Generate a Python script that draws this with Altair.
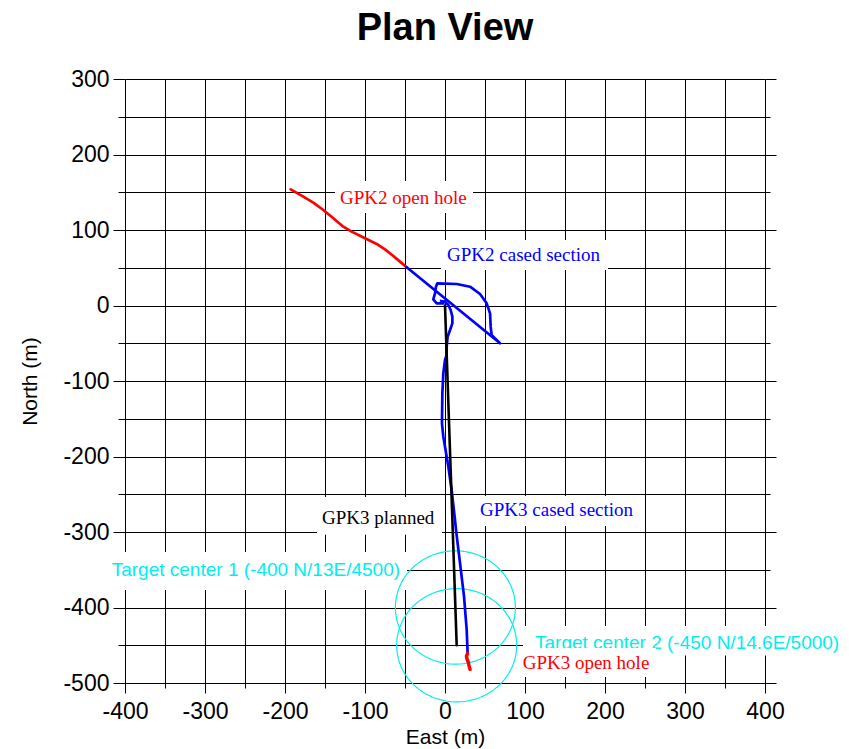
import altair as alt
import numpy as np
import pandas as pd

# Well trajectories in plan view: East (m), North (m)
gpk2_open_e = [-192.9, -177.1, -164.6, -152.1, -139.6, -127.1, -116.7, -100.0, -85.4, -75.0, -64.6, -56.3, -47.9]
gpk2_open_n = [153.9, 144.1, 136.2, 126.5, 115.5, 104.4, 97.8, 89.0, 81.5, 74.4, 65.6, 58.1, 50.6]

gpk2_cased_e = [-2.1, -10.4, -14.6, -12.5, -11.3, -9.6, 14.6, 31.3, 43.8, 52.1, 56.3, 57.1, 58.3, 62.5, 68.8, -47.9]
gpk2_cased_n = [2.9, 2.9, 8.2, 16.1, 24.9, 29.4, 28.5, 24.9, 15.2, 2.9, -10.4, -28.0, -39.1, -43.5, -50.1, 50.6]

gpk3_cased_e = [-5.0, 0.0, 4.2, 7.1, 9.2, 9.2, 6.3, 3.3, 2.1, 2.1, 0.0, -2.1, -3.3, -3.8, -2.1, 0.0,
                4.2, 8.3, 12.5, 13.8, 18.8, 23.8, 27.1, 28.3]
gpk3_cased_n = [6.0, 5.1, 0.7, -6.0, -14.8, -23.6, -32.5, -41.3, -54.5, -65.6, -72.2, -89.8, -116.3, -156.1,
                -173.7, -187.0, -213.5, -244.4, -284.1, -297.4, -341.5, -385.7, -429.8, -460.7]

gpk3_open_e = [28.3, 26.8, 27.6, 29.0, 30.0, 31.3]
gpk3_open_n = [-460.7, -464.5, -468.5, -472.0, -477.0, -482.0]

gpk3_plan_e = [0.0, 13.0, 14.6]
gpk3_plan_n = [0.0, -400.0, -450.0]

# Target circles (centre East/North, radius in m)
target_e = [13.0, 14.6]
target_n = [-400.0, -450.0]
target_radius = 75.0

# Annotation texts
label_texts = [
    "GPK2 open hole",
    "GPK2 cased section",
    "GPK3 planned",
    "GPK3 cased section",
    "Target center 1 (-400 N/13E/4500)",
    "Target center 2 (-450 N/14.6E/5000)",
    "GPK3 open hole",
]
label_colors = ["#FF0000", "#0000FF", "#000000", "#0000FF", "#00EEEE", "#00EEEE", "#FF0000"]
label_fonts = ["Liberation Serif"] * 4 + ["Liberation Sans"] * 2 + ["Liberation Serif"]
label_sizes = [19, 19, 19, 19, 19, 19, 19]
# anchor (left, middle) and white backing box, in data units
label_e = [-131.3, 2.5, -153.8, 43.8, -416.6, 112.5, 97.1]
label_n = [142.4, 66.9, -281.5, -270.9, -349.7, -447.4, -473.9]
box_e1 = [-137.5, -5.0, -160.0, 36.3, -425.0, 97.5, 90.0]
box_e2 = [35.0, 203.8, -3.8, 243.8, -47.5, 503.8, 263.8]
box_n1 = [164.9, 86.8, -253.6, -252.3, -326.5, -424.5, -453.6]
box_n2 = [122.5, 47.0, -303.6, -292.0, -376.8, -463.6, -492.0]

x_major = list(range(-400, 401, 100))
x_minor = list(range(-350, 351, 100))
y_major = list(range(-500, 301, 100))
y_minor = list(range(-450, 251, 100))

SANS = "Liberation Sans"
SX = alt.Scale(domain=[-400, 400], nice=False, zero=False)
SY = alt.Scale(domain=[-500, 300], nice=False, zero=False)


def make_axis(values, orient, tick, labels=False, title=None, grid=True, pad=4, tpad=4):
    return alt.Axis(
        values=values, orient=orient, tickSize=tick, grid=grid, labels=labels,
        domain=False, ticks=True, tickColor="black", tickWidth=1,
        gridColor="black", gridWidth=1, gridOpacity=1,
        labelFont=SANS, labelFontSize=23, labelColor="black", labelPadding=pad,
        labelFlush=False, labelOverlap=False, labelExpr="'' + datum.value",
        title=title, titleFont=SANS, titleFontSize=21, titleFontWeight="normal",
        titleColor="black", titlePadding=tpad,
        zindex=0,
    )


axis_sets = [
    (make_axis(x_major, "bottom", 10, labels=True, title="East (m)", pad=7, tpad=3),
     make_axis(y_major, "left", 12, labels=True, title="North (m)", pad=4, tpad=22)),
    (make_axis(x_minor, "bottom", 5), make_axis(y_minor, "left", 7)),
    (None, make_axis(y_major, "right", 11, grid=False)),
    (None, make_axis(y_minor, "right", 5, grid=False)),
]

layers = []

# label boxes and texts
for i, txt in enumerate(label_texts):
    ax_x, ax_y = axis_sets[i] if i < len(axis_sets) else (None, None)
    box_df = pd.DataFrame({"e1": [box_e1[i]], "e2": [box_e2[i]], "n1": [box_n1[i]], "n2": [box_n2[i]]})
    box = alt.Chart(box_df).mark_rect(color="white").encode(
        x=alt.X("e1:Q", scale=SX, axis=ax_x),
        x2="e2:Q",
        y=alt.Y("n1:Q", scale=SY, axis=ax_y),
        y2="n2:Q",
    )
    txt_df = pd.DataFrame({"e": [label_e[i]], "n": [label_n[i]], "t": [txt]})
    text = alt.Chart(txt_df).mark_text(
        align="left", baseline="middle", font=label_fonts[i], fontSize=label_sizes[i],
        color=label_colors[i],
    ).encode(
        x=alt.X("e:Q", scale=SX, axis=None),
        y=alt.Y("n:Q", scale=SY, axis=None),
        text="t:N",
    )
    layers += [box, text]

# target circles
ang = np.deg2rad(np.arange(0, 361, 2))
circ_rows = []
for k, (ce, cn) in enumerate(zip(target_e, target_n)):
    for j, a in enumerate(ang):
        circ_rows.append({"target": k, "i": j,
                          "e": ce + target_radius * np.cos(a),
                          "n": cn + target_radius * np.sin(a)})
circ_df = pd.DataFrame(circ_rows)
circles = alt.Chart(circ_df).mark_line(color="#00EEEE", strokeWidth=1.2).encode(
    x=alt.X("e:Q", scale=SX, axis=None),
    y=alt.Y("n:Q", scale=SY, axis=None),
    detail="target:N",
    order="i:Q",
)
layers.append(circles)


def trace(e, n, color, width):
    df = pd.DataFrame({"e": e, "n": n, "i": range(len(e))})
    return alt.Chart(df).mark_line(color=color, strokeWidth=width, strokeJoin="round",
                                   strokeCap="round").encode(
        x=alt.X("e:Q", scale=SX, axis=None),
        y=alt.Y("n:Q", scale=SY, axis=None),
        order="i:Q",
    )


layers += [
    trace(gpk2_open_e, gpk2_open_n, "#FF0000", 2.7),
    trace(gpk2_cased_e, gpk2_cased_n, "#0000FF", 2.7),
    trace(gpk3_cased_e, gpk3_cased_n, "#0000FF", 2.7),
    trace(gpk3_open_e, gpk3_open_n, "#FF0000", 3.5),
    trace(gpk3_plan_e, gpk3_plan_n, "#000000", 2.6),
]

chart = alt.layer(*layers).resolve_axis(x="independent", y="independent").properties(
    width=640,
    height=604,
    autosize=alt.AutoSizeParams(type="none"),
    padding={"left": 125, "top": 79, "right": 84, "bottom": 66},
    title=alt.Title("Plan View", font=SANS, fontSize=38, fontWeight="bold", color="black",
                    anchor="middle", frame="group", baseline="alphabetic", offset=28, dy=38),
).configure_view(stroke=None)

chart.save("out.html", embed_options={"renderer": "svg", "actions": False})
